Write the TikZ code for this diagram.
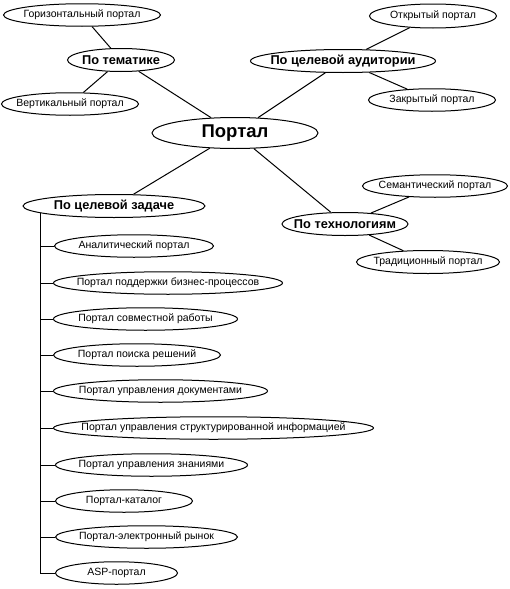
\documentclass[tikz,border=0pt]{standalone}
\usepackage{fontspec}
\setmainfont{Liberation Sans}
\usetikzlibrary{shapes.geometric}
\tikzset{
  ell/.style={ellipse, draw, line width=1pt, inner sep=0pt},
  small/.style={ell, minimum height=22.5pt, font=\fontsize{10.5}{12}\selectfont},
  mid/.style={ell, minimum height=23pt, font=\bfseries\fontsize{12.8}{15}\selectfont},
  big/.style={ell, font=\bfseries\fontsize{18.5}{21}\selectfont},
  item/.style={small, anchor=west},
  link/.style={line width=1pt}
}
\newcommand\zw[1]{\makebox[0pt]{#1}}
\begin{document}
\begin{tikzpicture}[x=1pt,y=-1pt]
\useasboundingbox (0,0) rectangle (509,589);
% top level
\node[big, minimum width=166pt, minimum height=31pt] (portal) at (235,133) {\zw{Портал}};
\node[mid, minimum width=107pt] (tem) at (121,60) {\zw{По тематике}};
\node[mid, minimum width=185pt] (aud) at (343,61) {\zw{По целевой аудитории}};
\node[mid, minimum width=182pt] (zad) at (114,206) {\zw{По целевой задаче}};
\node[mid, minimum width=126pt] (teh) at (345,224) {\zw{По технологиям}};
% leaves
\node[small, minimum width=157pt] (hor) at (82,15) {\zw{Горизонтальный портал}};
\node[small, minimum width=137pt] (ver) at (70,104) {\zw{Вертикальный портал}};
\node[small, minimum width=127pt, minimum height=24pt] (otk) at (433,16) {\zw{Открытый портал}};
\node[small, minimum width=127pt] (zak) at (432,100) {\zw{Закрытый портал}};
\node[small, minimum width=145pt] (sem) at (435,186) {\zw{Семантический портал}};
\node[small, minimum width=143pt, minimum height=23pt] (tra) at (428,262) {\zw{Традиционный портал}};
% list items
\node[item, minimum width=159pt] (i1) at (54,246) {\zw{Аналитический портал}};
\node[item, minimum width=229pt] (i2) at (53,283) {\zw{Портал поддержки бизнес-процессов}};
\node[item, minimum width=184pt] (i3) at (53,319) {\zw{Портал совместной работы}};
\node[item, minimum width=167pt] (i4) at (53,355) {\zw{Портал поиска решений}};
\node[item, minimum width=214pt] (i5) at (53,391) {\zw{Портал управления документами}};
\node[item, minimum width=320pt] (i6) at (53,428) {\zw{Портал управления структурированной информацией}};
\node[item, minimum width=192pt] (i7) at (55,465) {\zw{Портал управления знаниями}};
\node[item, minimum width=137pt] (i8) at (55,501) {\zw{Портал-каталог}};
\node[item, minimum width=182pt] (i9) at (55,537) {\zw{Портал-электронный рынок}};
\node[item, minimum width=122pt] (i10) at (55,573) {\zw{ASP-портал}};
% connectors
\draw[link] (portal) -- (tem);
\draw[link] (portal) -- (aud);
\draw[link] (portal) -- (zad);
\draw[link] (portal) -- (teh);
\draw[link] (tem) -- (hor);
\draw[link] (tem) -- (ver);
\draw[link] (aud) -- (otk);
\draw[link] (aud) -- (zak);
\draw[link] (teh) -- (sem);
\draw[link] (teh) -- (tra);
\coordinate (vtop) at (40,212.6);
\coordinate (vbot) at (40,573);
\draw[link] (vtop) -- (vbot);
\foreach \n in {i1,i2,i3,i4,i5,i6,i7,i8,i9,i10}
  \draw[link] (\n.west -| vtop) -- (\n.west);
\end{tikzpicture}
\end{document}
